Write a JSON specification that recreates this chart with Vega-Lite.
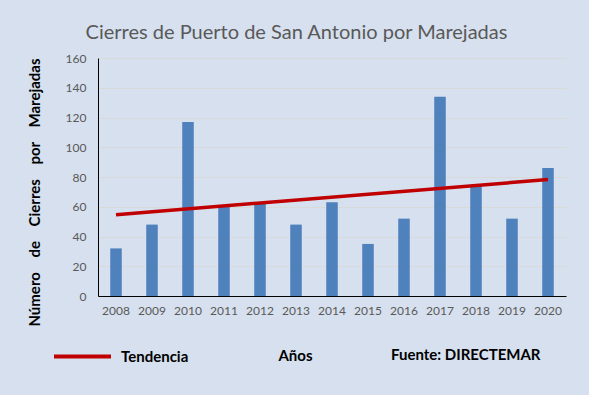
{
  "$schema": "https://vega.github.io/schema/vega-lite/v6.json",
  "width": 468,
  "height": 238,
  "autosize": {"type": "none"},
  "padding": {"left": 98, "top": 58, "right": 23, "bottom": 99},
  "background": "#d6e0ee",
  "config": {
    "font": "Lato",
    "view": {"stroke": null},
    "title": {"font": "Lato", "fontSize": 20, "fontWeight": "normal", "color": "#595959", "anchor": "middle", "frame": "bounds", "offset": 9}
  },
  "title": "Cierres de Puerto de San Antonio por Marejadas",
  "data": {
    "values": [
      {"year": 2008, "value": 32},
      {"year": 2009, "value": 48},
      {"year": 2010, "value": 117},
      {"year": 2011, "value": 60},
      {"year": 2012, "value": 63},
      {"year": 2013, "value": 48},
      {"year": 2014, "value": 63},
      {"year": 2015, "value": 35},
      {"year": 2016, "value": 52},
      {"year": 2017, "value": 134},
      {"year": 2018, "value": 74},
      {"year": 2019, "value": 52},
      {"year": 2020, "value": 86}
    ]
  },
  "encoding": {
    "x": {
      "field": "year", "type": "ordinal",
      "scale": {"paddingInner": 0.68, "paddingOuter": 0.34},
      "axis": {
        "title": "Años", "titleFontSize": 15, "titleFontWeight": "bold", "titleColor": "#000000",
        "titleX": 197, "titleY": 59, "titleBaseline": "middle", "titleAlign": "center",
        "labelAngle": 0, "labelFontSize": 12, "labelColor": "#595959", "labelPadding": 9,
        "ticks": false, "domainColor": "#000000", "domainWidth": 1
      }
    },
    "y": {
      "field": "value", "type": "quantitative",
      "scale": {"domain": [0, 160], "nice": false},
      "axis": {
        "values": [0, 20, 40, 60, 80, 100, 120, 140, 160],
        "labelOverlap": false,
        "title": "Número\u00a0\u00a0\u00a0\u00a0de\u00a0\u00a0\u00a0\u00a0Cierres\u00a0\u00a0\u00a0\u00a0por\u00a0\u00a0\u00a0\u00a0Marejadas",
        "titleFontSize": 15, "titleFontWeight": "bold", "titleColor": "#000000",
        "titleX": -64, "titleY": 134, "titleAngle": -90, "titleAlign": "center", "titleBaseline": "middle",
        "labelFontSize": 12, "labelColor": "#595959", "labelPadding": 12,
        "ticks": false, "domainColor": "#000000", "domainWidth": 1,
        "gridColor": "#d9d9d9", "gridWidth": 1
      }
    }
  },
  "layer": [
    {
      "mark": {"type": "bar", "color": "#4f81bd"}
    },
    {
      "transform": [{"regression": "value", "on": "year"}],
      "mark": {"type": "line", "strokeWidth": 3.5},
      "encoding": {
        "color": {
          "datum": "Tendencia",
          "scale": {"range": ["#c00000"]},
          "legend": {
            "orient": "none", "legendX": -46, "legendY": 268, "direction": "horizontal",
            "title": "Fuente: DIRECTEMAR", "titleOrient": "right", "titlePadding": 203,
            "titleAnchor": "middle",
            "titleFontSize": 15, "titleFontWeight": "bold", "titleColor": "#000000",
            "titleBaseline": "line-top", "titleLineHeight": 22,
            "symbolType": "stroke", "symbolSize": 3249, "symbolStrokeWidth": 4,
            "labelFontSize": 15, "labelFontWeight": "bold", "labelColor": "#000000", "labelOffset": 8
          }
        }
      }
    }
  ]
}
